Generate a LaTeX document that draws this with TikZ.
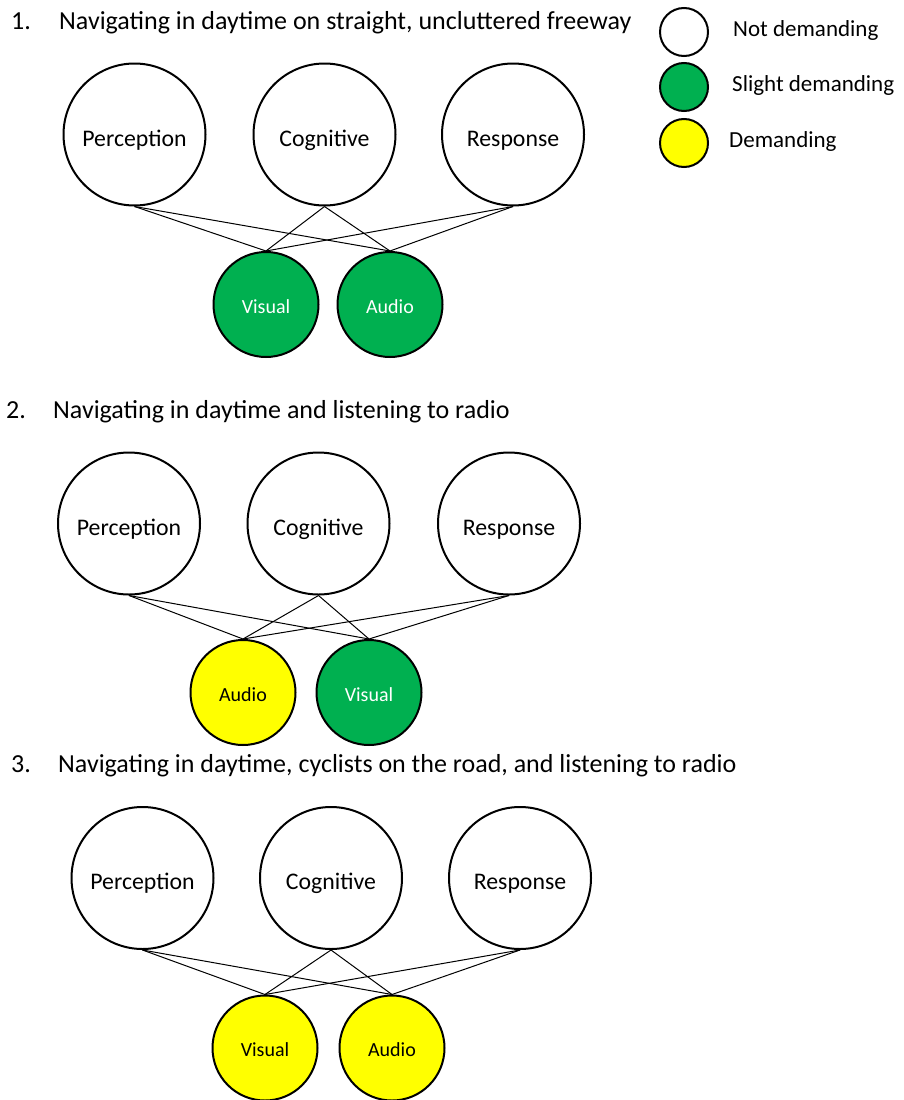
\documentclass[tikz,border=0pt]{standalone}
\usepackage{fontspec}
\setmainfont{Carlito}
\definecolor{sgreen}{HTML}{00B050}
\definecolor{dyellow}{HTML}{FFFF00}
\begin{document}
\begin{tikzpicture}[x=1pt,y=-1pt,
  big/.style={circle,draw=black,line width=2pt,fill=white,minimum size=142pt,inner sep=0pt,text height=27pt,text depth=4pt,font=\fontsize{23.8}{28}\selectfont},
  small/.style={circle,draw=black,line width=2pt,minimum size=105pt,inner sep=0pt,text height=21.4pt,text depth=4pt,font=\fontsize{20}{24}\selectfont},
  greenc/.style={small,fill=sgreen,text=white},
  yellowc/.style={small,fill=dyellow,text=black},
  legc/.style={circle,draw=black,line width=2pt,minimum size=48pt,inner sep=0pt},
  legtext/.style={anchor=base west,inner sep=0pt,font=\fontsize{23}{27}\selectfont},
  title/.style={anchor=base west,inner sep=0pt,font=\fontsize{26}{30}\selectfont},
  link/.style={draw=black,line width=1pt}]
\useasboundingbox (0,0) rectangle (903,1100);

% Legend
\node[legc,fill=white] (l1) at (684,32) {};
\node[legc,fill=sgreen] (l2) at (684,87) {};
\node[legc,fill=dyellow] (l3) at (684,143) {};
\node[legtext] (lt1) at (733,36) {Not demanding};
\node[legtext] (lt2) at (732,91) {Slight demanding};
\node[legtext] (lt3) at (729,147) {Demanding};

% Section 1
\node[title] (n1) at (11,29.5) {1.};
\node[title] (t1) at (59,29.5) {Navigating in daytime on straight, uncluttered freeway};
\node[big] (p1) at (134.5,134.5) {Perception};
\node[big] (c1) at (324.5,134.5) {Cognitive};
\node[big] (r1) at (513,134.5) {Response};
\node[greenc] (v1) at (266,304.5) {Visual};
\node[greenc] (a1) at (390,304.5) {Audio};
\foreach \s in {p1,c1,r1}{\foreach \t in {v1,a1}{\draw[link] (\s.south) -- (\t.north);}}

% Section 2
\node[title] (n2) at (6,418) {2.};
\node[title] (t2) at (53,418) {Navigating in daytime and listening to radio};
\node[big] (p2) at (129,523.5) {Perception};
\node[big] (c2) at (318.5,523.5) {Cognitive};
\node[big] (r2) at (509,523.5) {Response};
\node[yellowc] (a2) at (243,692.5) {Audio};
\node[greenc] (v2) at (369,692.5) {Visual};
\foreach \s in {p2,c2,r2}{\foreach \t in {a2,v2}{\draw[link] (\s.south) -- (\t.north);}}

% Section 3
\node[title] (n3) at (11,772) {3.};
\node[title] (t3) at (58,772) {Navigating in daytime, cyclists on the road, and listening to radio};
\node[big] (p3) at (142.5,878) {Perception};
\node[big] (c3) at (331,878) {Cognitive};
\node[big] (r3) at (520,878) {Response};
\node[yellowc] (v3) at (265,1048) {Visual};
\node[yellowc] (a3) at (392,1048) {Audio};
\foreach \s in {p3,c3,r3}{\foreach \t in {v3,a3}{\draw[link] (\s.south) -- (\t.north);}}
\end{tikzpicture}
\end{document}
